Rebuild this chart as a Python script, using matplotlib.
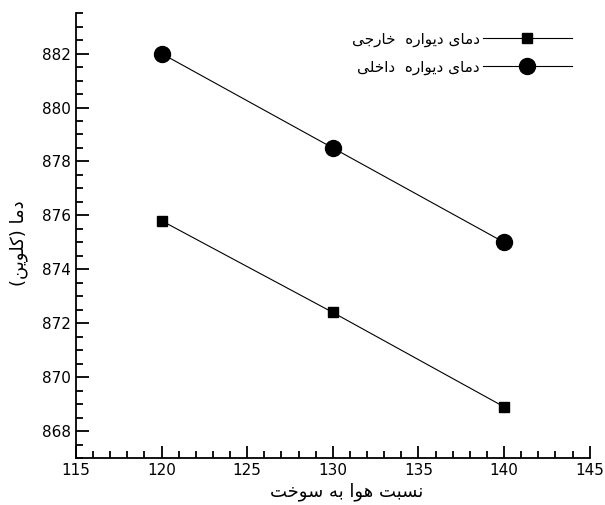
import matplotlib
matplotlib.use("Agg")
import matplotlib.pyplot as plt
from matplotlib.ticker import MultipleLocator

plt.rcParams['font.family'] = ['DejaVu Sans']

# داده ها
nesbat = [120, 130, 140]
dama_kharegi = [875.8, 872.4, 868.9]
dama_dakheli = [882.0, 878.5, 875.0]

label_kharegi = "دمای دیواره  خارجی"
label_dakheli = "دمای دیواره  داخلی"
xlabel = "نسبت هوا به سوخت"
ylabel = "دما (کلوین)"

# شکل حروف: (تنها، پایانی، آغازی، میانی)
forms = {
    'ا': ('\uFE8D', '\uFE8E', None, None),
    'د': ('\uFEA9', '\uFEAA', None, None),
    'ر': ('\uFEAD', '\uFEAE', None, None),
    'و': ('\uFEED', '\uFEEE', None, None),
    'ب': ('\uFE8F', '\uFE90', '\uFE91', '\uFE92'),
    'ت': ('\uFE95', '\uFE96', '\uFE97', '\uFE98'),
    'ج': ('\uFE9D', '\uFE9E', '\uFE9F', '\uFEA0'),
    'خ': ('\uFEA5', '\uFEA6', '\uFEA7', '\uFEA8'),
    'س': ('\uFEB1', '\uFEB2', '\uFEB3', '\uFEB4'),
    'ل': ('\uFEDD', '\uFEDE', '\uFEDF', '\uFEE0'),
    'م': ('\uFEE1', '\uFEE2', '\uFEE3', '\uFEE4'),
    'ن': ('\uFEE5', '\uFEE6', '\uFEE7', '\uFEE8'),
    'ه': ('\uFEE9', '\uFEEA', '\uFEEB', '\uFEEC'),
    'ی': ('\uFEEF', '\uFEF0', '\uFEF3', '\uFEF4'),
    'ک': ('\uFB8E', '\uFB8F', '\uFB90', '\uFB91'),
}


def shape(s):
    # متن فارسی را برای نمایش چپ به راست آماده می کند
    out = []
    for i, ch in enumerate(s):
        if ch not in forms:
            out.append(ch)
            continue
        prev = s[i - 1] if i > 0 else ''
        nxt = s[i + 1] if i + 1 < len(s) else ''
        f = forms[ch]
        join_prev = prev in forms and forms[prev][2] is not None
        join_next = f[2] is not None and nxt in forms
        if join_prev and join_next:
            out.append(f[3])
        elif join_prev:
            out.append(f[1])
        elif join_next:
            out.append(f[2])
        else:
            out.append(f[0])
    r = ''.join(out)[::-1]
    return r.translate(str.maketrans('()', ')('))


fig = plt.figure(figsize=(6.05, 5.05), dpi=100)
ax = fig.add_axes([0.1256, 0.093, 0.849, 0.881])

ax.plot(nesbat, dama_kharegi, color='black', lw=0.8, marker='s', ms=7.5,
        label=shape(label_kharegi))
ax.plot(nesbat, dama_dakheli, color='black', lw=0.8, marker='o', ms=11.5,
        label=shape(label_dakheli))

ax.set_xlim(115, 145)
ax.set_ylim(867, 883.5)
ax.xaxis.set_major_locator(MultipleLocator(5))
ax.xaxis.set_minor_locator(MultipleLocator(1))
ax.yaxis.set_major_locator(MultipleLocator(2))
ax.yaxis.set_minor_locator(MultipleLocator(0.5))

ax.spines['top'].set_visible(False)
ax.spines['right'].set_visible(False)
for sp in ['left', 'bottom']:
    ax.spines[sp].set_linewidth(1.3)
ax.tick_params(which='major', direction='in', length=9, width=1.3, labelsize=11)
ax.tick_params(which='minor', direction='in', length=5, width=1.3)

ax.set_xlabel(shape(xlabel), fontsize=13)
ax.set_ylabel(shape(ylabel), fontsize=13)
ax.xaxis.set_label_coords(0.527, -0.054)
ax.yaxis.set_label_coords(-0.093, 0.483)

ax.legend(loc='upper right', frameon=False, markerfirst=False, handlelength=5.8,
          handletextpad=0.2, fontsize=11, bbox_to_anchor=(0.992, 0.99),
          labelspacing=0.85)

fig.savefig('out.png', dpi=100)
